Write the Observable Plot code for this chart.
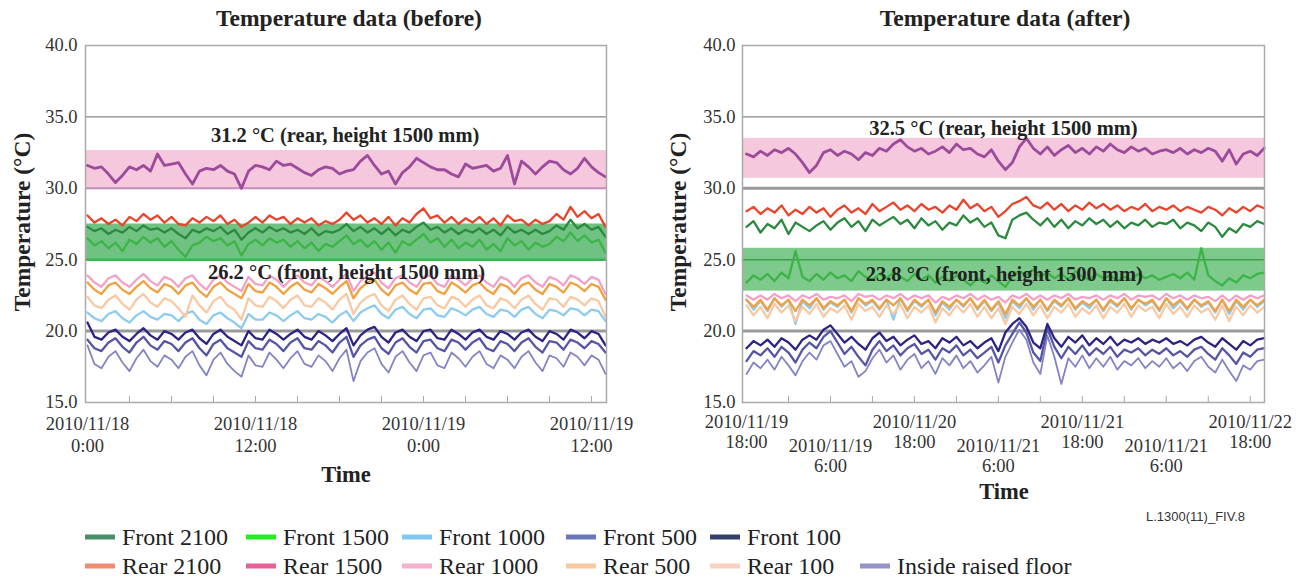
<!DOCTYPE html>
<html><head><meta charset="utf-8">
<script src="https://cdn.jsdelivr.net/npm/d3@7"></script>
<script src="https://cdn.jsdelivr.net/npm/@observablehq/plot@0.6"></script>
<style>
body{margin:0;background:#fff;}
#wrap{position:relative;width:1299px;height:581px;overflow:hidden;font-family:"Liberation Serif","Times New Roman",serif;color:#222;}
.abs{position:absolute;white-space:nowrap;}
.title{font-weight:bold;font-size:23.5px;transform:translate(-50%,-50%);}
.ylab{font-weight:bold;font-size:23.5px;transform:translate(-50%,-50%) rotate(-90deg);}
.xlab{font-weight:bold;font-size:22.5px;transform:translate(-50%,-50%);}
.code{font-family:"Liberation Sans",Arial,sans-serif;font-size:13px;color:#333;}
.leg{font-size:24px;color:#222;transform:translateY(-50%);display:flex;align-items:center;}
.sw{display:inline-block;width:30px;height:5px;margin-right:7px;}
svg.plot{position:absolute;top:0;background:transparent;overflow:visible;}
svg.plot, svg.plot text{font-family:"Liberation Serif","Times New Roman",serif;}
</style></head>
<body><div id="wrap"></div>
<script>
// ---------- tick labels ----------
const yTicks = [15, 20, 25, 30, 35, 40];
const leftTicks = [0, 12, 24, 36];
const leftTickLabels = ["2010/11/18\n0:00", "2010/11/18\n12:00", "2010/11/19\n0:00", "2010/11/19\n12:00"];
const leftMinor = [3, 6, 9, 12, 15, 18, 21, 24, 27, 30, 33, 36];
const rightTicks = [0, 1, 2, 3, 4, 5, 6];
const rightTickLabels = ["2010/11/19\n18:00", "2010/11/19\n6:00", "2010/11/20\n18:00", "2010/11/21\n6:00", "2010/11/21\n18:00", "2010/11/21\n6:00", "2010/11/22\n18:00"];
const rightMinor = [0.5, 1, 1.5, 2, 2.5, 3, 3.5, 4, 4.5, 5, 5.5, 6];

// ---------- series names ----------
const seriesNames = ["Front 2100", "Front 1500", "Front 1000", "Front 500", "Front 100", "Rear 2100", "Rear 1500", "Rear 1000", "Rear 500", "Rear 100", "Inside raised floor"];

// ---------- bands (mean zones) ----------
const leftRearBand = [30.0, 32.65];
const leftFrontBand = [25.0, 27.5];
const rightRearBand = [30.7, 33.5];
const rightFrontBand = [22.8, 25.8];
const annotations = ["31.2 °C (rear, height 1500 mm)", "26.2 °C (front, height 1500 mm)", "32.5 °C (rear, height 1500 mm)", "23.8 °C (front, height 1500 mm)"];

// ---------- BEFORE: readings every 0.5 h from 2010/11/18 0:00 ----------
const leftRear1500 = [31.6,31.4,31.5,31.0,30.4,30.9,31.5,31.3,31.6,31.2, 32.4,31.6,31.7,31.8,31.0,30.3,31.2,31.4,31.3,31.6, 31.2,31.0,30.0,31.2,31.6,31.5,31.3,31.9,31.6,31.7, 31.4,31.1,30.9,31.3,31.5,31.4,31.0,31.2,31.3,31.9, 32.3,31.6,31.0,31.2,30.3,31.1,31.5,32.1,31.8,31.5, 31.3,31.3,31.0,30.8,31.7,31.4,31.5,31.6,31.2,31.4, 32.3,30.3,31.9,31.5,31.0,31.5,31.9,31.8,31.3,31.0, 31.4,32.1,31.5,31.1,30.8];
const leftRear2100 = [28.1,27.6,27.9,27.5,27.8,27.4,28.0,27.7,28.2,27.8, 28.1,27.6,28.0,27.5,27.4,27.9,27.6,28.0,27.7,28.1, 27.5,27.8,27.3,27.6,28.0,27.6,28.1,27.8,28.0,27.5, 27.9,27.6,27.9,27.4,27.7,27.5,27.8,28.3,27.8,28.1, 27.6,27.9,27.5,28.0,27.4,27.9,27.6,28.2,28.6,27.9, 28.1,27.6,28.0,27.5,27.9,27.6,28.0,27.5,27.9,27.4, 28.1,27.7,27.8,27.4,27.8,27.5,27.7,28.2,27.8,28.7, 28.0,28.4,27.9,28.2,27.3];
const leftFront2100 = [27.3,27.0,27.2,26.8,27.1,26.9,27.3,27.0,27.4,27.1, 27.2,26.9,27.2,26.8,26.5,27.1,26.9,27.2,27.0,27.3, 26.8,27.1,26.4,26.9,27.2,26.9,27.3,27.0,27.2,26.9, 27.1,26.8,27.2,26.7,27.0,26.9,27.1,27.5,27.0,27.3, 26.9,27.2,26.8,27.2,26.7,27.1,26.9,27.3,27.6,27.1, 27.3,26.9,27.2,26.8,27.1,26.9,27.2,26.8,27.1,26.7, 27.3,26.9,27.1,26.8,27.1,26.8,27.0,27.4,27.1,27.8, 27.2,27.5,27.1,27.3,26.6];
const leftFront1500 = [26.5,26.0,26.3,25.8,26.2,25.6,26.4,26.1,26.6,26.2, 26.5,25.9,26.3,25.7,25.2,26.0,26.2,26.6,26.3,26.5, 26.0,26.3,25.3,26.1,26.4,26.0,26.5,26.2,26.4,25.9, 26.3,25.8,26.2,25.6,26.1,25.9,26.3,26.7,26.1,26.4, 25.9,26.3,25.7,26.2,25.5,26.3,26.0,26.4,26.8,26.2, 26.5,25.9,26.4,25.8,26.2,25.9,26.4,25.7,26.1,25.6, 26.5,26.0,26.3,25.7,26.2,25.9,26.1,26.6,26.3,26.9, 26.3,26.7,26.2,26.4,25.5];
const leftRear1000 = [23.9,23.4,23.1,23.7,23.9,23.4,23.1,23.6,24.0,23.5, 23.2,23.8,23.6,23.1,23.7,23.9,23.3,22.9,23.6,23.9, 23.4,23.1,22.8,23.8,23.3,23.2,23.9,23.6,23.1,23.6, 23.9,23.4,23.2,23.8,23.5,23.1,23.6,24.0,22.8,23.5, 23.9,24.1,23.4,23.0,23.7,23.9,23.4,23.1,23.8,23.9, 23.3,23.1,23.9,23.6,23.2,23.7,23.9,23.4,23.1,23.8, 23.6,23.1,23.7,23.9,23.4,23.1,23.8,23.6,23.2,23.9, 23.7,23.3,23.8,23.6,22.6];
const leftRear500 = [23.4,22.9,22.6,23.2,23.4,22.9,22.6,23.1,23.5,23.0, 22.7,23.3,23.1,22.6,23.2,23.4,22.8,22.4,23.1,23.4, 22.9,22.6,22.3,23.3,22.8,22.7,23.4,23.1,22.6,23.1, 23.4,22.9,22.7,23.3,23.0,22.6,23.1,23.5,22.3,23.0, 23.4,23.6,22.9,22.5,23.2,23.4,22.9,22.6,23.3,23.4, 22.8,22.6,23.4,23.1,22.7,23.2,23.4,22.9,22.6,23.3, 23.1,22.6,23.2,23.4,22.9,22.6,23.3,23.1,22.7,23.4, 23.2,22.8,23.3,23.1,22.2];
const leftRear100 = [22.4,21.8,21.6,22.2,22.5,21.9,21.5,22.2,22.6,22.0, 21.7,22.3,22.1,21.6,21.0,22.5,21.8,21.3,22.1,22.4, 21.8,21.5,20.8,22.3,21.8,21.7,22.4,22.1,21.6,22.2, 22.5,21.8,21.7,22.3,22.0,21.5,22.2,22.6,21.2,22.0, 22.4,22.6,21.8,21.4,22.2,22.5,21.9,21.5,22.3,22.4, 21.8,21.6,22.4,22.2,21.7,22.2,22.5,21.8,21.6,22.3, 22.1,21.6,22.2,22.5,21.9,21.5,22.3,22.2,21.7,22.4, 22.2,21.8,22.3,22.1,21.0];
const leftFront1000 = [21.3,20.9,20.7,21.2,21.4,20.9,20.6,21.1,21.4,21.0, 20.8,21.2,21.1,20.7,21.2,21.4,20.8,20.5,21.1,21.3, 20.9,20.6,20.2,21.2,20.8,20.8,21.3,21.1,20.7,21.1, 21.4,20.9,20.8,21.2,21.0,20.6,21.1,21.4,20.7,21.3, 21.6,21.8,21.2,20.9,21.5,21.7,21.2,20.9,21.5,21.6, 21.1,21.0,21.6,21.4,21.1,21.5,21.7,21.2,21.0,21.5, 21.4,21.0,21.5,21.7,21.2,20.9,21.5,21.4,21.1,21.6, 21.5,21.1,21.5,21.4,20.7];
const leftFront100 = [20.6,19.6,19.4,19.9,20.1,19.6,19.3,19.8,20.2,19.7, 19.4,20.0,19.8,19.4,19.9,20.1,19.5,19.1,19.8,20.1, 19.6,19.3,19.0,20.0,19.5,19.4,20.1,19.8,19.4,19.8, 20.1,19.6,19.4,20.0,19.7,19.3,19.8,20.2,19.0,19.7, 20.1,20.3,19.6,19.2,19.9,20.1,19.6,19.3,20.0,20.1, 19.5,19.4,20.1,19.8,19.4,19.9,20.1,19.6,19.4,20.0, 19.8,19.4,19.9,20.1,19.6,19.3,20.0,19.8,19.4,20.1, 19.9,19.5,20.0,19.8,19.0];
const leftFront500 = [19.4,18.8,18.6,19.2,19.5,18.9,18.5,19.2,19.6,19.0, 18.7,19.3,19.1,18.6,19.2,19.5,18.8,18.3,19.1,19.4, 18.8,18.5,18.2,19.3,18.8,18.7,19.4,19.1,18.6,19.2, 19.5,18.8,18.7,19.3,19.0,18.5,19.2,19.6,18.2,19.0, 19.4,19.6,18.8,18.4,19.2,19.5,18.9,18.5,19.3,19.4, 18.8,18.6,19.4,19.2,18.7,19.2,19.5,18.8,18.6,19.3, 19.1,18.6,19.2,19.5,18.9,18.5,19.3,19.2,18.7,19.4, 19.2,18.8,19.3,19.1,18.5];
const leftFloor = [19.0,17.7,17.4,18.2,18.6,17.8,17.2,18.1,18.7,17.9, 17.5,18.3,18.0,17.4,18.2,18.6,17.6,16.9,18.0,18.5, 17.7,17.2,16.8,18.3,17.6,17.5,18.5,18.0,17.4,18.1, 18.6,17.7,17.5,18.3,17.9,17.2,18.1,18.7,16.5,17.9, 18.5,18.8,17.7,17.1,18.2,18.6,17.8,17.2,18.3,18.5, 17.6,17.4,18.5,18.1,17.5,18.2,18.6,17.7,17.4,18.3, 18.0,17.4,18.2,18.6,17.8,17.2,18.3,18.1,17.5,18.5, 18.2,17.6,18.3,18.0,17.0];

// ---------- AFTER: readings every 1/12 tick step from first tick ----------
const rightRear1500 = [32.4,32.2,32.6,32.3,32.7,32.5,32.8,32.4,31.8,31.1, 31.6,32.5,32.7,32.3,32.6,32.4,32.0,32.5,32.3,32.8, 32.6,33.1,33.4,32.9,32.6,32.8,32.4,32.6,32.9,32.5, 33.1,32.7,32.8,32.4,32.2,32.7,31.9,31.3,31.8,32.9, 33.5,32.8,32.4,32.9,32.3,32.7,33.0,32.5,32.8,32.4, 32.9,32.6,33.1,32.7,32.5,32.9,32.6,32.8,32.4,32.6, 32.7,32.5,32.8,32.4,32.7,32.5,32.8,32.6,31.9,32.7, 31.7,32.4,32.6,32.3,32.8];
const rightRear2100 = [28.4,28.7,28.2,28.6,28.3,28.8,28.1,28.5,28.2,28.7, 28.3,28.6,28.0,28.5,28.8,28.3,28.6,28.2,28.9,28.4, 28.7,29.0,28.5,28.8,28.4,28.9,28.5,28.7,28.3,28.8, 28.5,29.2,28.6,28.9,28.4,28.7,28.0,28.4,28.9,29.1, 29.4,28.8,28.6,29.0,28.5,28.9,28.4,28.8,28.5,29.0, 28.6,28.9,28.5,28.8,28.4,28.7,28.5,28.9,28.4,28.7, 28.5,28.8,28.4,28.7,28.5,28.3,28.7,28.5,28.1,28.6, 28.3,28.7,28.4,28.8,28.6];
const rightFront2100 = [27.3,27.7,26.9,27.5,27.2,27.8,26.8,27.6,27.3,27.0, 27.4,27.7,27.1,27.6,27.9,27.3,27.7,27.0,27.8,27.4, 27.7,28.0,27.5,27.8,27.2,27.9,27.4,27.7,27.1,27.6, 27.4,28.1,27.6,27.9,27.3,27.6,26.7,26.5,27.8,28.1, 28.3,27.8,27.4,27.9,27.3,27.8,27.2,27.7,27.4,27.9, 27.5,27.8,27.3,27.7,27.2,27.6,27.4,27.8,27.3,27.6, 27.5,27.8,27.2,27.6,27.4,27.0,27.6,27.3,26.6,27.2, 26.9,27.5,27.3,27.7,27.5];
const rightFront1500 = [23.4,23.9,23.6,24.0,23.5,24.1,23.7,25.6,23.8,23.5, 24.0,23.6,24.1,23.7,23.9,23.5,24.2,23.8,23.6,24.0, 23.7,24.1,23.8,23.5,24.0,23.6,23.9,23.4,23.8,23.5, 23.9,23.6,23.2,23.7,23.4,23.9,23.5,23.1,23.8,24.2, 23.9,24.3,23.8,24.1,23.7,24.0,23.6,24.2,23.8,23.6, 24.0,23.7,23.9,23.5,23.8,23.6,24.0,23.7,23.9,23.6, 23.8,24.0,23.7,24.1,23.6,25.8,23.9,23.5,23.2,23.7, 23.4,23.9,23.7,24.0,24.1];
const rightRear1000 = [22.5,22.2,22.5,22.2,22.6,22.3,22.5,22.1,22.5,22.3, 22.6,22.2,22.4,22.3,22.5,22.1,22.6,22.4,22.5,22.2, 22.5,22.3,22.6,22.2,22.5,22.3,22.5,22.0,22.4,22.2, 22.5,22.3,22.6,22.2,22.5,22.2,22.4,22.0,22.5,22.3, 22.6,22.2,22.5,22.2,22.5,22.3,22.6,22.2,22.4,22.3, 22.5,22.2,22.5,22.3,22.6,22.2,22.5,22.4,22.5,22.2, 22.6,22.3,22.5,22.2,22.5,22.3,22.4,22.1,22.5,22.1, 22.5,22.2,22.5,22.3,22.5];
const rightRear500 = [22.2,21.7,22.2,21.5,22.3,21.8,22.2,21.4,22.2,21.8, 22.3,21.6,22.1,21.8,22.2,21.4,22.3,21.9,22.2,21.6, 22.2,21.8,22.3,21.5,22.2,21.8,22.2,21.3,22.1,21.7, 22.2,21.8,22.3,21.6,22.2,21.5,22.1,21.2,22.2,21.8, 22.3,21.7,22.2,21.5,22.2,21.8,22.3,21.6,22.1,21.8, 22.2,21.5,22.2,21.8,22.3,21.6,22.2,21.9,22.2,21.5, 22.3,21.8,22.2,21.6,22.2,21.8,22.1,21.4,22.2,21.4, 22.2,21.7,22.2,21.8,22.2];
const rightRear100 = [21.8,21.1,21.7,20.9,21.9,21.3,21.8,20.7,21.7,21.2, 21.9,21.0,21.6,21.3,21.8,20.8,21.9,21.4,21.7,21.0, 21.8,21.2,21.9,20.9,21.7,21.3,21.8,20.6,21.6,21.1, 21.8,21.3,21.9,21.0,21.7,20.9,21.6,20.5,21.7,21.2, 21.9,21.1,21.8,20.9,21.7,21.3,21.9,21.0,21.6,21.2, 21.8,20.9,21.7,21.3,21.9,21.0,21.8,21.4,21.7,20.9, 21.9,21.2,21.7,21.0,21.8,21.3,21.6,20.8,21.8,20.7, 21.7,21.1,21.8,21.3,21.7];
const rightFront1000 = [22.2,21.5,22.1,21.4,22.3,21.7,22.2,20.5,22.1,21.6, 22.3,21.5,22.0,21.7,22.2,21.3,22.3,21.8,22.1,21.5, 22.2,20.8,22.3,21.4,22.1,21.7,22.2,21.1,22.0,21.5, 22.2,21.7,22.3,21.5,22.1,21.4,22.0,20.9,22.1,21.6, 22.3,21.5,22.2,21.4,22.1,21.7,22.3,21.5,22.0,21.6, 22.2,21.4,22.1,21.7,22.3,21.5,22.2,21.8,22.1,21.4, 22.3,21.6,22.1,21.5,22.2,21.7,22.0,21.3,22.2,21.2, 22.1,21.5,22.2,21.7,22.1];
const rightFront100 = [18.8,19.3,19.0,19.4,18.9,19.5,19.2,18.7,19.4,19.7, 19.4,20.1,20.4,19.8,19.2,19.6,19.1,18.7,19.5,19.9, 19.3,19.6,19.0,19.4,19.7,19.1,19.3,18.8,19.5,19.2, 19.6,19.0,19.3,18.8,19.2,19.5,18.6,19.9,20.5,20.9, 20.3,19.2,18.8,20.5,19.5,18.9,19.6,19.2,19.7,19.0, 19.5,19.1,19.6,19.0,19.4,19.2,19.5,19.1,19.4,19.2, 19.5,19.1,19.3,19.0,19.4,19.6,19.2,18.9,19.5,19.1, 18.7,19.3,19.0,19.4,19.5];
const rightFront500 = [17.9,18.6,18.3,18.8,18.2,18.9,18.5,17.8,18.7,19.2, 18.8,19.6,20.0,19.2,18.4,18.9,18.2,17.6,18.7,19.3, 18.6,19.0,18.3,18.8,19.1,18.4,18.7,18.0,18.8,18.5, 19.0,18.3,18.7,18.1,18.5,18.9,17.8,19.0,19.8,20.6, 19.9,18.5,17.9,20.2,18.9,18.1,18.9,18.4,19.0,18.3, 18.8,18.4,18.9,18.2,18.7,18.5,18.8,18.3,18.7,18.4, 18.8,18.3,18.6,18.2,18.7,18.9,18.4,18.0,18.8,18.3, 17.7,18.5,18.2,18.7,18.8];
const rightFloor = [17.0,17.8,17.4,18.0,17.3,18.2,17.6,16.9,17.9,18.5, 18.0,19.0,19.3,18.4,17.5,17.9,16.8,17.2,18.1,18.7, 17.8,18.3,17.3,18.0,18.4,17.4,17.9,17.0,18.1,17.6, 18.3,17.4,17.9,17.1,17.6,18.2,16.4,18.2,19.2,20.1, 19.4,17.8,17.0,19.7,18.2,16.3,18.1,17.5,18.3,17.4, 18.1,17.5,18.2,17.3,17.9,17.6,18.1,17.4,17.9,17.5, 18.1,17.4,17.8,17.2,17.9,18.2,17.5,17.1,18.0,17.2, 16.5,17.6,17.3,17.9,18.0];

// ---------- build tables ----------
const plotColors = {
  "Front 2100": "#2b8a3e", "Front 1500": "#3cb446", "Front 1000": "#8ecbf0", "Front 500": "#5656a6",
  "Front 100": "#2c2482", "Rear 2100": "#e8452c", "Rear 1500": "#9c4a9c", "Rear 1000": "#f2a2c8",
  "Rear 500": "#f0a140", "Rear 100": "#f8c9a2", "Inside raised floor": "#8484c4"
};
const legendColors = {
  "Front 2100": "#4a8f6a", "Front 1500": "#22ee22", "Front 1000": "#80c8f0", "Front 500": "#6a78b8",
  "Front 100": "#34406a", "Rear 2100": "#f08a70", "Rear 1500": "#e8609a", "Rear 1000": "#f8b0cc",
  "Rear 500": "#f8c8a0", "Rear 100": "#fad0c0", "Inside raised floor": "#9494c8"
};
const drawOrder = ["Inside raised floor", "Front 500", "Front 100", "Front 1000", "Rear 100", "Rear 500", "Rear 1000", "Front 1500", "Front 2100", "Rear 2100", "Rear 1500"];
const leftSeries = {
  "Front 2100": leftFront2100, "Front 1500": leftFront1500, "Front 1000": leftFront1000, "Front 500": leftFront500,
  "Front 100": leftFront100, "Rear 2100": leftRear2100, "Rear 1500": leftRear1500, "Rear 1000": leftRear1000,
  "Rear 500": leftRear500, "Rear 100": leftRear100, "Inside raised floor": leftFloor
};
const rightSeries = {
  "Front 2100": rightFront2100, "Front 1500": rightFront1500, "Front 1000": rightFront1000, "Front 500": rightFront500,
  "Front 100": rightFront100, "Rear 2100": rightRear2100, "Rear 1500": rightRear1500, "Rear 1000": rightRear1000,
  "Rear 500": rightRear500, "Rear 100": rightRear100, "Inside raised floor": rightFloor
};
function table(seriesObj, step) {
  const rows = [];
  for (const name of drawOrder) seriesObj[name].forEach((v, i) => rows.push({series: name, x: i * step, y: v}));
  return rows;
}
const leftRows = table(leftSeries, 0.5);
const rightRows = table(rightSeries, 1 / 12);

const font = '"Liberation Serif","Times New Roman",serif';
const leftLabel = new Map(leftTicks.map((t, i) => [t, leftTickLabels[i]]));
const rightLabel = new Map(rightTicks.map((t, i) => [t, rightTickLabels[i]]));

function lineMarks(rows) {
  return drawOrder.map(name => Plot.line(rows.filter(r => r.series === name), {
    x: "x", y: "y", stroke: plotColors[name],
    strokeWidth: name === "Rear 1500" ? 2.8 : (name === "Inside raised floor" ? 1.8 : 2.3)
  }));
}

const common = {width: 650, height: 500, marginTop: 45, marginBottom: 98,
  style: "background:transparent;overflow:visible;font-family:" + font + ";"};
const tickText = {fontSize: 18.5, fontFamily: font, fill: "#333", label: null};
const annText = {text: d => d, fontWeight: "bold", fontSize: 20.5, fontFamily: font, fill: "#222"};

const leftDomain = [-0.14, 37.07];
const left = Plot.plot({
  ...common, marginLeft: 85, marginRight: 44,
  x: {domain: leftDomain, axis: null}, y: {domain: [15, 40], axis: null},
  marks: [
    Plot.rect([leftRearBand], {x1: leftDomain[0], x2: leftDomain[1], y1: d => d[0], y2: d => d[1], fill: "#f6c8dd"}),
    Plot.rect([leftFrontBand], {x1: leftDomain[0], x2: leftDomain[1], y1: d => d[0], y2: d => d[1], fill: "#70c283"}),
    Plot.ruleY([35], {stroke: "#666", strokeWidth: 1}),
    Plot.ruleY([30], {stroke: "#c38bb8", strokeWidth: 2}),
    Plot.ruleY([25], {stroke: "#3bb54f", strokeWidth: 2.5}),
    Plot.ruleY([20], {stroke: "#999", strokeWidth: 3}),
    ...lineMarks(leftRows),
    Plot.frame({stroke: "#aaa", strokeWidth: 1.5}),
    Plot.tickX(leftMinor, {x: d => d, insetTop: 351, stroke: "#aaa"}),
    Plot.axisY({...tickText, ticks: yTicks, tickFormat: d => d.toFixed(1), tickSize: 0, tickPadding: 8}),
    Plot.axisX({...tickText, ticks: leftTicks, tickFormat: d => leftLabel.get(d), tickSize: 0, tickPadding: 13, lineHeight: 1.14}),
    Plot.text([annotations[0]], {...annText, x: 18.4, y: 33.7}),
    Plot.text([annotations[1]], {...annText, x: 18.5, y: 24.1})
  ]
});
left.classList.add("plot");
left.style.left = "0px";

const rightDomain = [-0.048, 6.17];
const right = Plot.plot({
  ...common, marginLeft: 92, marginRight: 36,
  x: {domain: rightDomain, axis: null}, y: {domain: [15, 40], axis: null},
  marks: [
    Plot.rect([rightRearBand], {x1: rightDomain[0], x2: rightDomain[1], y1: d => d[0], y2: d => d[1], fill: "#f6c8dd"}),
    Plot.rect([rightFrontBand], {x1: rightDomain[0], x2: rightDomain[1], y1: d => d[0], y2: d => d[1], fill: "#7dca8c"}),
    Plot.ruleY([35], {stroke: "#666", strokeWidth: 1}),
    Plot.ruleY([30], {stroke: "#999", strokeWidth: 3}),
    Plot.ruleY([25], {stroke: "#3a9f4a", strokeWidth: 1.5}),
    Plot.ruleY([20], {stroke: "#999", strokeWidth: 3}),
    ...lineMarks(rightRows),
    Plot.frame({stroke: "#aaa", strokeWidth: 1.5}),
    Plot.tickX(rightMinor, {x: d => d, insetTop: 351, stroke: "#aaa"}),
    Plot.axisY({...tickText, ticks: yTicks, tickFormat: d => d.toFixed(1), tickSize: 0, tickPadding: 7}),
    Plot.axisX({...tickText, ticks: rightTicks.filter((t, i) => i % 2 === 0), tickFormat: d => rightLabel.get(d), tickSize: 0, tickPadding: 11, lineHeight: 1.1}),
    Plot.axisX({...tickText, ticks: rightTicks.filter((t, i) => i % 2 === 1), tickFormat: d => rightLabel.get(d), tickSize: 0, tickPadding: 35, lineHeight: 1.1}),
    Plot.text([annotations[2]], {...annText, x: 3.06, y: 34.2}),
    Plot.text([annotations[3]], {...annText, x: 3.07, y: 24.0})
  ]
});
right.classList.add("plot");
right.style.left = "650px";

const wrap = document.getElementById("wrap");
wrap.appendChild(left);
wrap.appendChild(right);

function addText(cls, text, x, y) {
  const d = document.createElement("div");
  d.className = "abs " + cls;
  d.textContent = text;
  d.style.left = x + "px";
  d.style.top = y + "px";
  wrap.appendChild(d);
  return d;
}
addText("title", "Temperature data (before)", 349, 18);
addText("title", "Temperature data (after)", 1005, 18);
addText("ylab", "Temperature (°C)", 22, 222);
addText("ylab", "Temperature (°C)", 678, 222);
addText("xlab", "Time", 346, 475);
addText("xlab", "Time", 1004, 492);
addText("code", "L.1300(11)_FIV.8", 1146, 509);

// legend
const legendRows = [
  ["Front 2100", "Front 1500", "Front 1000", "Front 500", "Front 100"],
  ["Rear 2100", "Rear 1500", "Rear 1000", "Rear 500", "Rear 100", "Inside raised floor"]
];
const colX = [85, 246, 402, 566, 710, 860];
const rowY = [537, 566];
legendRows.forEach((row, r) => row.forEach((name, c) => {
  const d = document.createElement("div");
  d.className = "abs leg";
  d.style.left = colX[c] + "px";
  d.style.top = rowY[r] + "px";
  const s = document.createElement("span");
  s.className = "sw";
  s.style.background = legendColors[name];
  d.appendChild(s);
  d.appendChild(document.createTextNode(name));
  wrap.appendChild(d);
}));
</script>
</body></html>
